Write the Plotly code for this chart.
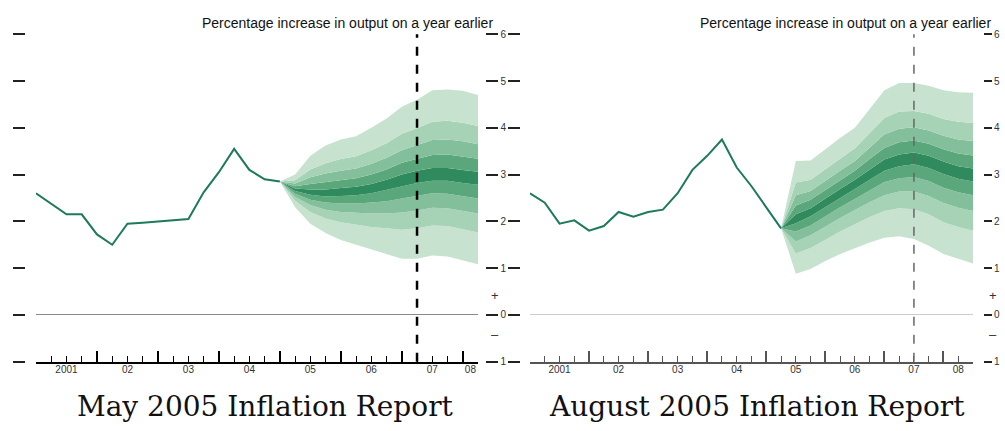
import plotly.graph_objects as go

# ---------------- data ----------------
title_text = "Percentage increase in output on a year earlier"
caption_left = "May 2005 Inflation Report"
caption_right = "August 2005 Inflation Report"

year_labels = ["2001", "02", "03", "04", "05", "06", "07", "08"]
ytick_vals = [-1, 0, 1, 2, 3, 4, 5, 6]
ytick_text = ["1", "0", "1", "2", "3", "4", "5", "6"]

# May 2005: GDP growth history, 2001 Q1 .. 2005 Q1
may_hist_start = "2001 Q1"
may_hist = [2.6, 2.38, 2.15, 2.15, 1.72, 1.5, 1.95, 1.97, 2.0, 2.02, 2.05,
            2.62, 3.05, 3.55, 3.1, 2.9, 2.85]

# May 2005 fan, 2005 Q1 .. 2008 Q2 (band edges from low to high)
may_fan_start = "2005 Q1"
may_p05 = [2.85, 2.3, 1.95, 1.75, 1.6, 1.5, 1.4, 1.3, 1.2, 1.2, 1.27, 1.25, 1.17, 1.08]
may_p15 = [2.85, 2.44, 2.2, 2.06, 1.98, 1.93, 1.88, 1.85, 1.82, 1.85, 1.91, 1.9, 1.83, 1.76]
may_p25 = [2.85, 2.52, 2.35, 2.25, 2.2, 2.18, 2.17, 2.17, 2.19, 2.23, 2.29, 2.28, 2.23, 2.17]
may_p35 = [2.85, 2.59, 2.46, 2.4, 2.38, 2.38, 2.4, 2.43, 2.49, 2.54, 2.6, 2.59, 2.54, 2.49]
may_p45 = [2.85, 2.65, 2.57, 2.53, 2.54, 2.56, 2.6, 2.67, 2.75, 2.82, 2.87, 2.87, 2.82, 2.78]
may_p55 = [2.85, 2.7, 2.68, 2.68, 2.71, 2.74, 2.8, 2.89, 3.0, 3.08, 3.14, 3.14, 3.1, 3.06]
may_p65 = [2.85, 2.75, 2.8, 2.84, 2.88, 2.92, 3.0, 3.11, 3.25, 3.34, 3.42, 3.43, 3.39, 3.34]
may_p75 = [2.85, 2.81, 2.94, 3.02, 3.08, 3.13, 3.23, 3.36, 3.52, 3.63, 3.74, 3.75, 3.71, 3.65]
may_p85 = [2.85, 2.88, 3.11, 3.24, 3.33, 3.39, 3.52, 3.67, 3.87, 3.99, 4.13, 4.15, 4.11, 4.04]
may_p95 = [2.85, 3.0, 3.4, 3.62, 3.75, 3.82, 4.0, 4.2, 4.45, 4.6, 4.8, 4.82, 4.79, 4.7]

# August 2005: history 2001 Q1 .. 2005 Q2
aug_hist_start = "2001 Q1"
aug_hist = [2.6, 2.4, 1.95, 2.02, 1.8, 1.9, 2.2, 2.1, 2.2, 2.25, 2.6, 3.1,
            3.4, 3.75, 3.15, 2.75, 2.3, 1.85]

# August 2005 fan, 2005 Q2 .. 2008 Q3
aug_fan_start = "2005 Q2"
aug_p05 = [1.85, 0.88, 0.98, 1.15, 1.3, 1.43, 1.55, 1.65, 1.68, 1.62, 1.48, 1.3, 1.2, 1.1]
aug_p15 = [1.85, 1.31, 1.43, 1.61, 1.78, 1.94, 2.09, 2.22, 2.28, 2.26, 2.15, 1.98, 1.88, 1.8]
aug_p25 = [1.85, 1.57, 1.7, 1.89, 2.07, 2.24, 2.41, 2.56, 2.64, 2.64, 2.54, 2.39, 2.29, 2.22]
aug_p35 = [1.85, 1.78, 1.91, 2.11, 2.3, 2.48, 2.66, 2.84, 2.92, 2.95, 2.86, 2.72, 2.62, 2.56]
aug_p45 = [1.85, 1.96, 2.11, 2.3, 2.5, 2.69, 2.89, 3.08, 3.18, 3.22, 3.14, 3.01, 2.91, 2.85]
aug_p55 = [1.85, 2.15, 2.28, 2.49, 2.69, 2.89, 3.11, 3.32, 3.43, 3.47, 3.4, 3.28, 3.18, 3.13]
aug_p65 = [1.85, 2.34, 2.46, 2.67, 2.88, 3.08, 3.33, 3.57, 3.69, 3.73, 3.66, 3.54, 3.45, 3.41]
aug_p75 = [1.85, 2.56, 2.65, 2.87, 3.08, 3.29, 3.57, 3.86, 3.98, 4.01, 3.94, 3.83, 3.75, 3.72]
aug_p85 = [1.85, 2.83, 2.89, 3.12, 3.34, 3.56, 3.88, 4.21, 4.35, 4.36, 4.3, 4.19, 4.13, 4.1]
aug_p95 = [1.85, 3.29, 3.3, 3.55, 3.78, 4.0, 4.4, 4.8, 4.96, 4.96, 4.9, 4.8, 4.76, 4.75]

# two-year horizon markers
may_horizon = "2007 Q2"
aug_horizon = "2007 Q3"

# ---------------- styling ----------------
W, H = 1005, 431
line_col = "#1d7a5c"
fan_cols = ["#c7e3d0", "#a6d2b5", "#83bf9a", "#5aa77b", "#2f8a5d"]
tick_font = dict(family="Liberation Sans, Arial, sans-serif", size=10, color="#333333")


def qpos(label, offset=0):
    year, q = label.split(" Q")
    return int(year) + (int(q) - 1) / 4 + offset / 4


def qseries(start, n):
    return [qpos(start, i) for i in range(n)]


fig = go.Figure()


def add_fan(bounds, start, xa, ya):
    xs = qseries(start, len(bounds[0]))
    cols = fan_cols + fan_cols[-2::-1]
    for i, b in enumerate(bounds):
        fig.add_trace(go.Scatter(
            x=xs, y=b, mode="lines", line=dict(width=0),
            fill=None if i == 0 else "tonexty",
            fillcolor=cols[i - 1] if i > 0 else None,
            xaxis=xa, yaxis=ya, hoverinfo="skip", showlegend=False))


add_fan([may_p05, may_p15, may_p25, may_p35, may_p45,
         may_p55, may_p65, may_p75, may_p85, may_p95], may_fan_start, "x", "y")
fig.add_trace(go.Scatter(x=qseries(may_hist_start, len(may_hist)), y=may_hist,
                         mode="lines", line=dict(color=line_col, width=2),
                         xaxis="x", yaxis="y", showlegend=False))

add_fan([aug_p05, aug_p15, aug_p25, aug_p35, aug_p45,
         aug_p55, aug_p65, aug_p75, aug_p85, aug_p95], aug_fan_start, "x2", "y2")
fig.add_trace(go.Scatter(x=qseries(aug_hist_start, len(aug_hist)), y=aug_hist,
                         mode="lines", line=dict(color=line_col, width=2),
                         xaxis="x2", yaxis="y2", showlegend=False))

# empty traces so the overlay axes (quarter/year ticks, labels, right-hand ticks) get drawn
for xa, ya in [("x3", "y"), ("x5", "y"), ("x7", "y"), ("x", "y3"),
               ("x4", "y2"), ("x6", "y2"), ("x8", "y2"), ("x2", "y4")]:
    fig.add_trace(go.Scatter(x=[None], y=[None], mode="lines", xaxis=xa, yaxis=ya,
                             showlegend=False, hoverinfo="skip"))

# horizon lines
fig.add_shape(type="line", xref="x", yref="y domain", x0=qpos(may_horizon), x1=qpos(may_horizon),
              y0=0, y1=1, line=dict(color="black", width=2.5, dash="dash"))
fig.add_shape(type="line", xref="x2", yref="y2 domain", x0=qpos(aug_horizon), x1=qpos(aug_horizon),
              y0=0, y1=1, line=dict(color="#666666", width=1.5, dash="dash"))

# ---------------- axes ----------------
dom1 = [36 / W, 478 / W]
dom2 = [530 / W, 973 / W]
ydom = [65 / H, 401 / H]
r1 = [2001.0, 2008.25]
r2 = [2001.0, 2008.5]


def base_axis(dom, rng, col, lw, anchor):
    return dict(domain=dom, range=rng, anchor=anchor, showgrid=False, zeroline=False,
                showline=True, linecolor=col, linewidth=lw, ticks="",
                showticklabels=False)


def tick_axis(over, dom, rng, col, anchor, vals, length, width):
    return dict(overlaying=over, domain=dom, range=rng, anchor=anchor, side="bottom",
                showgrid=False, zeroline=False, showline=False,
                tickmode="array", tickvals=vals,
                ticks="inside", ticklen=length, tickwidth=width, tickcolor=col,
                showticklabels=False)


def quarters(rng):
    n = int(round((rng[1] - rng[0]) * 4)) + 1
    return [rng[0] + i / 4 for i in range(n)]


def label_axis(over, dom, rng, anchor):
    ends = list(range(2001, 2009)) + [rng[1]]
    mids = [(ends[i] + min(ends[i + 1], rng[1])) / 2 for i in range(len(year_labels))]
    return dict(overlaying=over, domain=dom, range=rng, anchor=anchor, side="bottom",
                showgrid=False, zeroline=False, showline=False, ticks="",
                tickmode="array", tickvals=mids, ticktext=year_labels,
                tickfont=tick_font)


def value_axis(pos, side, ticklen, labels, over=None, zero=False, zcol="#999999"):
    d = dict(domain=ydom, range=[-1, 6], anchor="free", position=pos, side=side,
             showgrid=False, showline=False, zeroline=zero, zerolinecolor=zcol,
             zerolinewidth=1.2,
             tickmode="array", tickvals=ytick_vals, ticktext=ytick_text,
             ticks="outside", ticklen=ticklen, tickwidth=2, tickcolor="#222222",
             showticklabels=labels, tickfont=tick_font)
    if over:
        d["overlaying"] = over
    return d


years = list(range(2001, 2009))

fig.update_layout(
    width=W, height=H,
    margin=dict(l=0, r=0, t=0, b=0),
    paper_bgcolor="white", plot_bgcolor="rgba(0,0,0,0)",
    showlegend=False,
    xaxis=base_axis(dom1, r1, "black", 2, "y"),
    xaxis2=base_axis(dom2, r2, "#555555", 1.5, "y2"),
    xaxis3=tick_axis("x", dom1, r1, "black", "y", years, 11, 1.6),
    xaxis4=tick_axis("x2", dom2, r2, "#555555", "y2", years, 11, 1.6),
    xaxis5=label_axis("x", dom1, r1, "y"),
    xaxis6=label_axis("x2", dom2, r2, "y2"),
    xaxis7=tick_axis("x", dom1, r1, "black", "y", quarters(r1), 6, 1.4),
    xaxis8=tick_axis("x2", dom2, r2, "#555555", "y2", quarters(r2), 6, 1.4),
    yaxis=value_axis(25 / W, "left", 12, False, zero=True, zcol="#8a8a8a"),
    yaxis3=value_axis(485 / W, "right", 12, False, over="y"),
    yaxis2=value_axis(520 / W, "left", 12, True, zero=True, zcol="#cccccc"),
    yaxis4=value_axis(983 / W, "right", 8, True, over="y2"),
)

# ---------------- text ----------------
ann_font = dict(family="Liberation Sans, Arial, sans-serif", size=14, color="#111111")
cap_font = dict(family="DejaVu Serif, serif", size=28, color="#111111")
sign_font = dict(family="Liberation Sans, Arial, sans-serif", size=13, color="#333333")

for xp in (495 / W, 993 / W):
    fig.add_annotation(xref="paper", yref="paper", x=xp, y=1 - 18 / H, text=title_text,
                       xanchor="right", yanchor="middle", showarrow=False, font=ann_font)

fig.add_annotation(xref="paper", yref="paper", x=265 / W, y=1 - 412 / H, text=caption_left,
                   showarrow=False, font=cap_font, xanchor="center", yanchor="middle")
fig.add_annotation(xref="paper", yref="paper", x=757 / W, y=1 - 412 / H, text=caption_right,
                   showarrow=False, font=cap_font, xanchor="center", yanchor="middle")

for xp in (495 / W, 993 / W):
    fig.add_annotation(xref="paper", yref="paper", x=xp, y=1 - 298 / H, text="+",
                       showarrow=False, font=sign_font, xanchor="center", yanchor="middle")
    fig.add_annotation(xref="paper", yref="paper", x=xp, y=1 - 338 / H, text="\u2013",
                       showarrow=False, font=sign_font, xanchor="center", yanchor="middle")

fig.write_html("out.html", config={"displayModeBar": False},
               post_script="document.body.style.margin='0';")
